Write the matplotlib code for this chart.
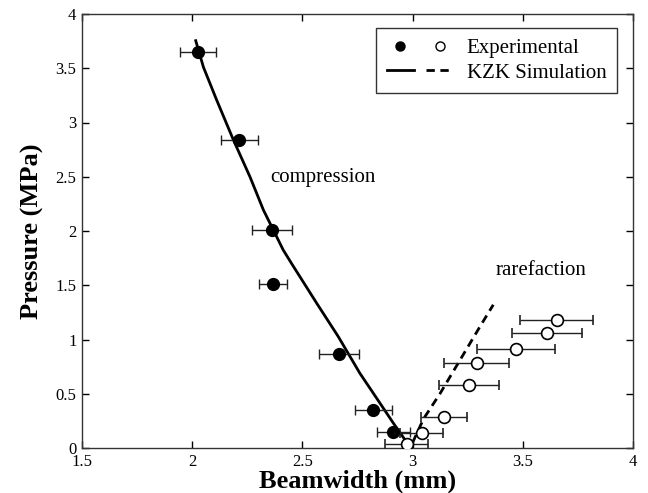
import numpy as np
import matplotlib.pyplot as plt
from matplotlib.legend_handler import HandlerTuple
from matplotlib.lines import Line2D

plt.rcParams['font.family'] = ['Liberation Serif', 'DejaVu Serif']

# experimental, compression (filled)
comp_w = [2.026, 2.214, 2.362, 2.365, 2.667, 2.822, 2.913]
comp_p = [3.65, 2.836, 2.009, 1.51, 0.869, 0.35, 0.15]
comp_err = [0.08, 0.083, 0.092, 0.064, 0.091, 0.083, 0.075]

# experimental, rarefaction (open)
rare_w = [2.973, 3.041, 3.144, 3.256, 3.29, 3.47, 3.611, 3.654]
rare_p = [0.034, 0.141, 0.289, 0.581, 0.781, 0.915, 1.063, 1.18]
rare_err = [0.097, 0.098, 0.104, 0.136, 0.148, 0.177, 0.159, 0.165]

# KZK simulation
sim_comp_w = [2.016, 2.051, 2.111, 2.187, 2.262, 2.323, 2.413, 2.451, 2.565,
              2.663, 2.761, 2.822, 2.913, 2.966, 2.99]
sim_comp_p = [3.754, 3.51, 3.207, 2.839, 2.50, 2.194, 1.825, 1.70, 1.334,
              1.026, 0.688, 0.504, 0.228, 0.074, 0.03]
sim_rare_w = [3.0, 3.05, 3.124, 3.215, 3.306, 3.366]
sim_rare_p = [0.05, 0.27, 0.50, 0.81, 1.12, 1.32]

fig = plt.figure(figsize=(6.48, 4.93), dpi=100)
ax = fig.add_axes([82/648, 45/493, 551/648, 434/493])

ax.plot(sim_comp_w, sim_comp_p, color='black', lw=2.0, zorder=2)
ax.plot(sim_rare_w, sim_rare_p, color='black', lw=2.0, ls=(0, (3, 2)), zorder=2)

ax.errorbar(comp_w, comp_p, xerr=comp_err, fmt='o', color='black', ms=8.5,
            ecolor='#222222', elinewidth=1.0, capsize=3.5, capthick=1.0, zorder=3)
ax.errorbar(rare_w, rare_p, xerr=rare_err, fmt='o', mfc='white', mec='black',
            mew=1.2, ms=8.5, ecolor='#222222', elinewidth=1.0, capsize=3.5,
            capthick=1.0, zorder=3)

ax.text(2.593, 2.49, 'compression', fontsize=15, ha='center', va='center')
ax.text(3.583, 1.64, 'rarefaction', fontsize=15, ha='center', va='center')

ax.set_xlim(1.5, 4)
ax.set_ylim(0, 4)
ax.set_xticks(np.arange(1.5, 4.01, 0.5))
ax.set_yticks(np.arange(0, 4.01, 0.5))
ax.set_xticklabels(['1.5', '2', '2.5', '3', '3.5', '4'])
ax.set_yticklabels(['0', '0.5', '1', '1.5', '2', '2.5', '3', '3.5', '4'])
ax.tick_params(direction='in', top=True, right=True, length=5, width=1,
               labelsize=12, pad=4)
for s in ax.spines.values():
    s.set_linewidth(1.0)
    s.set_color('#333333')

ax.set_xlabel('Beamwidth (mm)', fontsize=19, fontweight='bold', labelpad=0)
ax.set_ylabel('Pressure (MPa)', fontsize=19, fontweight='bold', labelpad=8)

h_exp = (Line2D([], [], marker='o', color='black', ls='none', ms=6.5),
         Line2D([], [], marker='o', mfc='white', mec='black', ls='none', ms=6.5))
h_sim = (Line2D([], [], color='black', lw=2),
         Line2D([], [], color='black', lw=2, ls=(0, (3, 2))))
leg = ax.legend([h_exp, h_sim], ['Experimental', 'KZK Simulation'],
                handler_map={tuple: HandlerTuple(ndivide=None, pad=0.6)},
                loc='upper right', bbox_to_anchor=(0.971, 0.968),
                borderaxespad=0, fontsize=15, frameon=True, fancybox=False,
                handlelength=3.2, borderpad=0.5, labelspacing=0.25,
                handletextpad=0.65)
leg.get_frame().set_edgecolor('black')
leg.get_frame().set_linewidth(1.0)

fig.savefig('out.png', dpi=100)
